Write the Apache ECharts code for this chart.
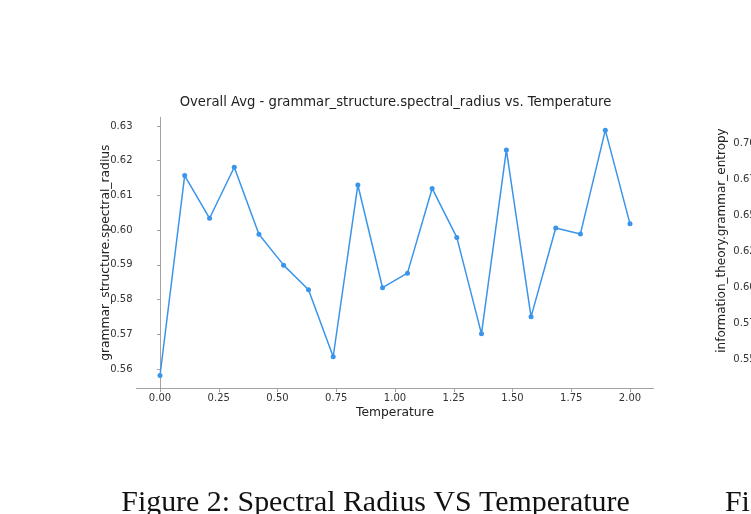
<!DOCTYPE html>
<html>
<head>
<meta charset="utf-8">
<script src="https://cdn.jsdelivr.net/npm/echarts@6/dist/echarts.min.js"></script>
<style>
  html, body { margin: 0; padding: 0; background: #fff; }
  #chart { width: 751px; height: 514px; }
</style>
</head>
<body>
<div id="chart"></div>
<script>
// temperature sweep (x) and averaged spectral radius (y)
const temperatures = [0.0, 0.105, 0.211, 0.316, 0.421, 0.526, 0.632, 0.737, 0.842, 0.947,
  1.053, 1.158, 1.263, 1.368, 1.474, 1.579, 1.684, 1.789, 1.895, 2.0];
const spectralRadius = [0.5581, 0.6157, 0.6034, 0.6181, 0.5988, 0.5899, 0.5828, 0.5635, 0.6130, 0.5834,
  0.5876, 0.6120, 0.5979, 0.5701, 0.6231, 0.5750, 0.6006, 0.5989, 0.6288, 0.6018];
const xTicks = [0, 0.25, 0.5, 0.75, 1.0, 1.25, 1.5, 1.75, 2.0];
const yTicks = [0.56, 0.57, 0.58, 0.59, 0.60, 0.61, 0.62, 0.63];
// neighbouring figure, only its y axis peeks in at the right edge
const entropyTicks = [0.550, 0.575, 0.600, 0.625, 0.650, 0.675, 0.700];

const lineColor = '#3a95ea'
const spine = '#a3a3a3'
const sans = 'DejaVu Sans'
const serif = 'Liberation Serif'
const labelSize = 12.3

const chart = echarts.init(document.getElementById('chart'))

const option = {
  animation: false,
  grid: [
    {left: 136.5, right: 97.5, top: 117.3, bottom: 126, outerBoundsMode: 'none'},
    {left: 768, width: 300, top: 117, height: 247, outerBoundsMode: 'none'}
  ],
  xAxis: [
    {
      type: 'value',
      gridIndex: 0,
      min: -0.1,
      max: 2.1,
      name: 'Temperature',
      nameLocation: 'middle',
      nameGap: 19,
      nameMoveOverlap: false,
      nameTextStyle: {fontFamily: sans, fontSize: labelSize, color: '#222'},
      axisLine: {show: true, lineStyle: {color: spine, width: 1}},
      axisTick: {show: true, length: 4, customValues: xTicks, lineStyle: {color: spine}},
      axisLabel: {
        customValues: xTicks,
        margin: 5,
        fontFamily: sans,
        fontSize: 10,
        color: '#333',
        formatter: (v) => v.toFixed(2)
      },
      splitLine: {show: false}
    },
    {type: 'value', gridIndex: 1, min: 0, max: 2, show: false}
  ],
  yAxis: [
    {
      type: 'value',
      gridIndex: 0,
      min: 0.5545,
      max: 0.6325,
      name: 'grammar_structure.spectral_radius',
      nameLocation: 'middle',
      nameRotate: 90,
      nameGap: 25,
      nameMoveOverlap: false,
      nameTextStyle: {fontFamily: sans, fontSize: labelSize, color: '#222'},
      axisLine: {show: true, lineStyle: {color: spine, width: 1}},
      axisTick: {show: true, length: 3, customValues: yTicks, lineStyle: {color: spine}},
      axisLabel: {
        customValues: yTicks,
        margin: 4,
        fontFamily: sans,
        fontSize: 10,
        color: '#333',
        formatter: (v) => v.toFixed(2)
      },
      splitLine: {show: false}
    },
    {
      type: 'value',
      gridIndex: 1,
      min: 0.5465,
      max: 0.718,
      name: 'information_theory.grammar_entropy',
      nameLocation: 'middle',
      nameRotate: 90,
      nameGap: 40,
      nameMoveOverlap: false,
      nameTextStyle: {fontFamily: sans, fontSize: 12, color: '#222'},
      axisLine: {show: true, lineStyle: {color: spine, width: 1}},
      axisTick: {show: true, length: 3, customValues: entropyTicks, lineStyle: {color: spine}},
      axisLabel: {
        customValues: entropyTicks,
        margin: 6,
        fontFamily: sans,
        fontSize: 10,
        color: '#333',
        formatter: (v) => v.toFixed(3)
      },
      splitLine: {show: false}
    }
  ],
  graphic: [
    {
      type: 'text',
      x: 395.5,
      y: 103,
      style: {
        text: 'Overall Avg - grammar_structure.spectral_radius vs. Temperature',
        fontFamily: sans,
        fontSize: 13.2,
        fill: '#222',
        align: 'center',
        verticalAlign: 'middle'
      }
    },
    {
      type: 'text',
      x: 375.5,
      y: 503,
      style: {
        text: 'Figure 2: Spectral Radius VS Temperature',
        fontFamily: serif,
        fontSize: 29.9,
        fill: '#111',
        align: 'center',
        verticalAlign: 'middle'
      }
    },
    {
      type: 'text',
      x: 725,
      y: 503,
      style: {
        text: 'Fig',
        fontFamily: serif,
        fontSize: 29.9,
        fill: '#111',
        align: 'left',
        verticalAlign: 'middle'
      }
    }
  ],
  series: [
    {
      type: 'line',
      xAxisIndex: 0,
      yAxisIndex: 0,
      data: temperatures.map((t, i) => [t, spectralRadius[i]]),
      symbol: 'circle',
      symbolSize: 5,
      lineStyle: {color: lineColor, width: 1.5},
      itemStyle: {color: lineColor},
      emphasis: {disabled: true}
    }
  ]
}

chart.setOption(option)
</script>
</body>
</html>
